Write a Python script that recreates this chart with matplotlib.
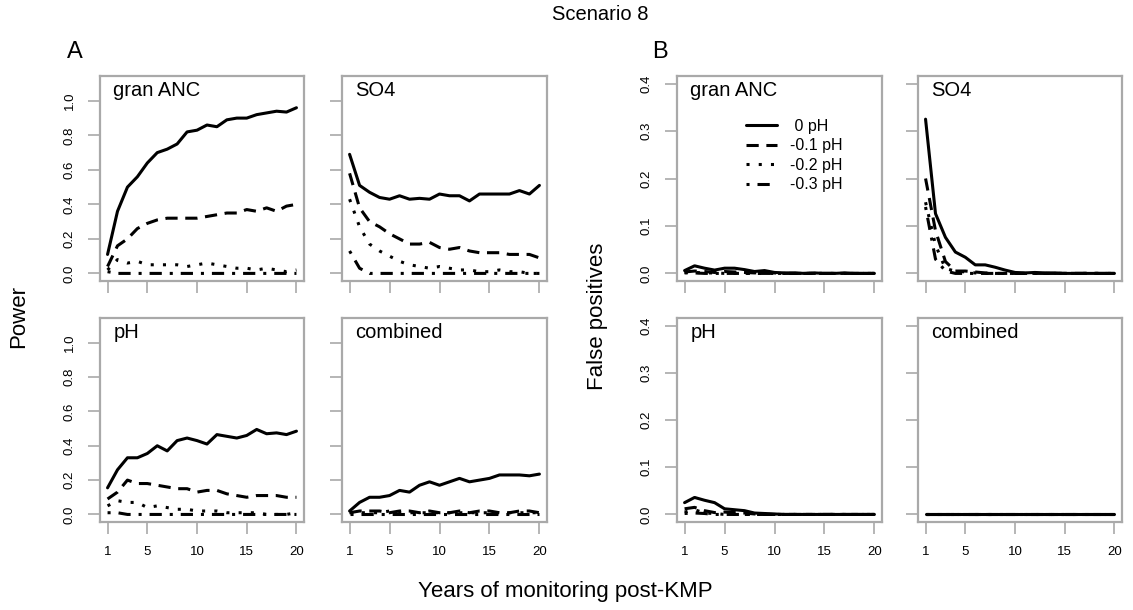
import matplotlib
matplotlib.use("Agg")
import matplotlib.pyplot as plt

plt.rcParams['font.family'] = ['Liberation Sans', 'DejaVu Sans']

years = list(range(1, 21))
series_labels = [" 0 pH", "-0.1 pH", "-0.2 pH", "-0.3 pH"]
panel_names = ["gran ANC", "SO4", "pH", "combined"]

# ---- Panel A: Power ----
power_granANC_0 = [0.11, 0.36, 0.50, 0.56, 0.64, 0.70, 0.72, 0.75, 0.82, 0.83,
                   0.86, 0.85, 0.89, 0.90, 0.90, 0.92, 0.93, 0.94, 0.935, 0.96]
power_granANC_1 = [0.04, 0.16, 0.20, 0.26, 0.29, 0.31, 0.32, 0.32, 0.32, 0.32,
                   0.33, 0.34, 0.35, 0.35, 0.37, 0.36, 0.38, 0.36, 0.39, 0.40]
power_granANC_2 = [0.02, 0.08, 0.06, 0.07, 0.05, 0.05, 0.05, 0.05, 0.04, 0.05,
                   0.06, 0.05, 0.04, 0.03, 0.03, 0.02, 0.03, 0.02, 0.01, 0.02]
power_granANC_3 = [0.01, 0.00, 0.00, 0.00, 0.00, 0.00, 0.00, 0.00, 0.00, 0.00,
                   0.00, 0.00, 0.00, 0.00, 0.00, 0.00, 0.00, 0.00, 0.00, 0.00]

power_SO4_0 = [0.69, 0.51, 0.47, 0.44, 0.43, 0.45, 0.43, 0.435, 0.43, 0.46,
               0.45, 0.45, 0.42, 0.46, 0.46, 0.46, 0.46, 0.48, 0.46, 0.51]
power_SO4_1 = [0.58, 0.38, 0.30, 0.27, 0.23, 0.20, 0.17, 0.17, 0.18, 0.15,
               0.14, 0.15, 0.13, 0.12, 0.12, 0.12, 0.11, 0.11, 0.11, 0.09]
power_SO4_2 = [0.43, 0.27, 0.17, 0.13, 0.10, 0.07, 0.05, 0.04, 0.03, 0.04,
               0.03, 0.02, 0.02, 0.01, 0.01, 0.02, 0.01, 0.01, 0.00, 0.00]
power_SO4_3 = [0.13, 0.03, 0.00, 0.00, 0.00, 0.00, 0.00, 0.00, 0.00, 0.00,
               0.00, 0.00, 0.00, 0.00, 0.00, 0.00, 0.00, 0.00, 0.00, 0.00]

power_pH_0 = [0.155, 0.26, 0.33, 0.33, 0.355, 0.40, 0.37, 0.43, 0.445, 0.43,
              0.41, 0.465, 0.455, 0.445, 0.46, 0.495, 0.47, 0.475, 0.465, 0.485]
power_pH_1 = [0.09, 0.13, 0.20, 0.18, 0.18, 0.17, 0.16, 0.15, 0.15, 0.13,
              0.14, 0.14, 0.12, 0.11, 0.10, 0.11, 0.11, 0.11, 0.10, 0.10]
power_pH_2 = [0.05, 0.08, 0.07, 0.07, 0.04, 0.05, 0.04, 0.03, 0.03, 0.02,
              0.02, 0.02, 0.01, 0.01, 0.01, 0.01, 0.00, 0.00, 0.00, 0.01]
power_pH_3 = [0.01, 0.01, 0.00, 0.00, 0.00, 0.00, 0.00, 0.00, 0.00, 0.00,
              0.00, 0.00, 0.00, 0.00, 0.00, 0.00, 0.00, 0.00, 0.00, 0.00]

power_comb_0 = [0.02, 0.07, 0.10, 0.10, 0.11, 0.14, 0.13, 0.17, 0.19, 0.17,
                0.19, 0.21, 0.19, 0.20, 0.21, 0.23, 0.23, 0.23, 0.225, 0.235]
power_comb_1 = [0.01, 0.02, 0.02, 0.02, 0.01, 0.02, 0.02, 0.01, 0.02, 0.01,
                0.01, 0.02, 0.01, 0.02, 0.02, 0.01, 0.01, 0.02, 0.02, 0.01]
power_comb_2 = [0.01, 0.01, 0.01, 0.01, 0.02, 0.01, 0.01, 0.01, 0.01, 0.01,
                0.01, 0.01, 0.01, 0.01, 0.01, 0.01, 0.01, 0.01, 0.01, 0.01]
power_comb_3 = [0.00, 0.00, 0.00, 0.00, 0.00, 0.00, 0.00, 0.00, 0.00, 0.00,
                0.00, 0.00, 0.00, 0.00, 0.00, 0.00, 0.00, 0.00, 0.00, 0.00]

# ---- Panel B: False positives ----
fp_granANC_0 = [0.006, 0.016, 0.011, 0.007, 0.011, 0.011, 0.008, 0.004, 0.006, 0.002,
                0.001, 0.001, 0.000, 0.001, 0.000, 0.000, 0.001, 0.000, 0.000, 0.000]
fp_granANC_1 = [0.003, 0.005, 0.004, 0.002, 0.004, 0.003, 0.002, 0.001, 0.002, 0.001,
                0.000, 0.000, 0.000, 0.000, 0.000, 0.000, 0.000, 0.000, 0.000, 0.000]
fp_granANC_2 = [0.002, 0.002, 0.001, 0.001, 0.000, 0.000, 0.000, 0.000, 0.000, 0.000,
                0.000, 0.000, 0.000, 0.000, 0.000, 0.000, 0.000, 0.000, 0.000, 0.000]
fp_granANC_3 = [0.001, 0.001, 0.000, 0.000, 0.000, 0.000, 0.000, 0.000, 0.000, 0.000,
                0.000, 0.000, 0.000, 0.000, 0.000, 0.000, 0.000, 0.000, 0.000, 0.000]

fp_SO4_0 = [0.325, 0.126, 0.076, 0.045, 0.034, 0.018, 0.018, 0.013, 0.007, 0.002,
            0.001, 0.002, 0.001, 0.001, 0.000, 0.000, 0.000, 0.000, 0.000, 0.000]
fp_SO4_1 = [0.200, 0.090, 0.025, 0.005, 0.005, 0.003, 0.001, 0.000, 0.000, 0.000,
            0.000, 0.000, 0.000, 0.000, 0.000, 0.000, 0.000, 0.000, 0.000, 0.000]
fp_SO4_2 = [0.150, 0.060, 0.010, 0.005, 0.003, 0.001, 0.000, 0.000, 0.000, 0.000,
            0.000, 0.000, 0.000, 0.000, 0.000, 0.000, 0.000, 0.000, 0.000, 0.000]
fp_SO4_3 = [0.140, 0.030, 0.005, 0.000, 0.000, 0.000, 0.000, 0.000, 0.000, 0.000,
            0.000, 0.000, 0.000, 0.000, 0.000, 0.000, 0.000, 0.000, 0.000, 0.000]

fp_pH_0 = [0.025, 0.036, 0.030, 0.025, 0.012, 0.010, 0.008, 0.003, 0.002, 0.001,
           0.000, 0.000, 0.000, 0.000, 0.000, 0.000, 0.000, 0.000, 0.000, 0.000]
fp_pH_1 = [0.012, 0.015, 0.008, 0.004, 0.005, 0.004, 0.003, 0.001, 0.000, 0.000,
           0.000, 0.000, 0.000, 0.000, 0.000, 0.000, 0.000, 0.000, 0.000, 0.000]
fp_pH_2 = [0.005, 0.010, 0.003, 0.002, 0.000, 0.000, 0.000, 0.000, 0.000, 0.000,
           0.000, 0.000, 0.000, 0.000, 0.000, 0.000, 0.000, 0.000, 0.000, 0.000]
fp_pH_3 = [0.002, 0.003, 0.002, 0.000, 0.000, 0.000, 0.000, 0.000, 0.000, 0.000,
           0.000, 0.000, 0.000, 0.000, 0.000, 0.000, 0.000, 0.000, 0.000, 0.000]

fp_comb_0 = [0.0] * 20
fp_comb_1 = [0.0] * 20
fp_comb_2 = [0.0] * 20
fp_comb_3 = [0.0] * 20

power_data = [
    [power_granANC_0, power_granANC_1, power_granANC_2, power_granANC_3],
    [power_SO4_0, power_SO4_1, power_SO4_2, power_SO4_3],
    [power_pH_0, power_pH_1, power_pH_2, power_pH_3],
    [power_comb_0, power_comb_1, power_comb_2, power_comb_3],
]
fp_data = [
    [fp_granANC_0, fp_granANC_1, fp_granANC_2, fp_granANC_3],
    [fp_SO4_0, fp_SO4_1, fp_SO4_2, fp_SO4_3],
    [fp_pH_0, fp_pH_1, fp_pH_2, fp_pH_3],
    [fp_comb_0, fp_comb_1, fp_comb_2, fp_comb_3],
]

xticks = [1, 5, 10, 15, 20]
power_yticks = [0.0, 0.2, 0.4, 0.6, 0.8, 1.0]
fp_yticks = [0.0, 0.1, 0.2, 0.3, 0.4]

# ---- styles ----
LW = 2.2
linestyles = ['-', (0, (4.0, 2.5)), (0, (1.0, 3.0)), (0, (1.0, 2.6, 4.0, 2.6))]
BOX = '#a9a9a9'

W, H = 1133, 610
fig = plt.figure(figsize=(W / 100, H / 100), dpi=100)


def ax_at(l, t, r, b):
    return fig.add_axes([l / W, 1 - b / H, (r - l) / W, (b - t) / H])


def style_axes(ax, ylim, yticks, show_y, show_x, fmt):
    ax.set_xlim(1 - 0.04 * 19, 20 + 0.04 * 19)
    rng = ylim[1] - ylim[0]
    ax.set_ylim(ylim[0] - 0.04 * rng, ylim[1] + 0.04 * rng)
    ax.set_xticks(xticks)
    ax.set_yticks(yticks)
    for s in ax.spines.values():
        s.set_color(BOX)
        s.set_linewidth(1.6)
    ax.tick_params(axis='both', direction='out', length=8.5, width=1.2,
                   color=BOX, labelsize=9.5, labelcolor='black')
    ax.tick_params(axis='x', pad=8.5)
    ax.tick_params(axis='y', pad=9)
    if show_x:
        ax.set_xticklabels([str(v) for v in xticks])
    else:
        ax.set_xticklabels([])
    if show_y:
        ax.set_yticklabels([fmt.format(v) for v in yticks])
        for lab in ax.get_yticklabels():
            lab.set_rotation(90)
            lab.set_va('center')
            lab.set_ha('right')
    else:
        ax.set_yticklabels([])


boxes_A = [(100, 76, 304, 281), (342, 76, 547, 281),
           (100, 318, 304, 522), (342, 318, 547, 522)]
boxes_B = [(677, 76, 882, 281), (918, 76, 1122, 281),
           (677, 318, 882, 522), (918, 318, 1122, 522)]

for group, boxes, data, ylim, yticks in [
        ('A', boxes_A, power_data, (0, 1.1), power_yticks),
        ('B', boxes_B, fp_data, (0, 0.4), fp_yticks)]:
    for i, (box, series) in enumerate(zip(boxes, data)):
        ax = ax_at(*box)
        handles = []
        for vals, ls, lab in zip(series, linestyles, series_labels):
            h, = ax.plot(years, vals, color='black', lw=LW, linestyle=ls,
                         label=lab, solid_capstyle='round', solid_joinstyle='round')
            handles.append(h)
        style_axes(ax, ylim, yticks, show_y=(i % 2 == 0), show_x=(i >= 2),
                   fmt="{:.1f}")
        ax.text(0.065, 0.975, panel_names[i], transform=ax.transAxes,
                ha='left', va='top', fontsize=14.5)
        if group == 'B' and i == 0:
            ax.legend(handles=handles, loc='upper left',
                      bbox_to_anchor=(746 / W, 1 - 119 / H),
                      bbox_transform=fig.transFigure,
                      frameon=False, fontsize=11.5, handlelength=1.95,
                      handletextpad=0.8, labelspacing=0.28,
                      borderpad=0, borderaxespad=0)

fig.text(600 / W, 1 - 15 / H, "Scenario 8", ha='center', va='center', fontsize=14.5)
fig.text(75 / W, 1 - 52 / H, "A", ha='center', va='center', fontsize=17)
fig.text(660 / W, 1 - 52 / H, "B", ha='center', va='center', fontsize=17)
fig.text(19 / W, 1 - 316 / H, "Power", ha='center', va='center',
         rotation=90, fontsize=16)
fig.text(598 / W, 1 - 316 / H, "False positives", ha='center', va='center',
         rotation=90, fontsize=16)
fig.text(565 / W, 1 - 591 / H, "Years of monitoring post-KMP", ha='center',
         va='center', fontsize=16)

fig.savefig("out.png", dpi=100)
